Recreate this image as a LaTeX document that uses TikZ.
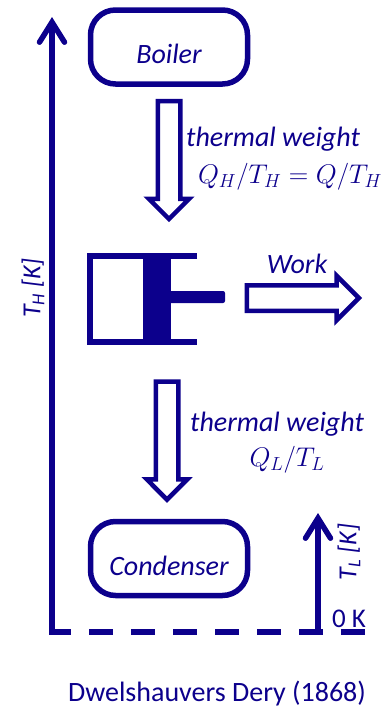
\RequirePackage{fix-cm}
\documentclass[tikz,border=0pt]{standalone}
\usepackage{fontspec}
\setmainfont{Carlito}
\usepackage{xcolor}
\usetikzlibrary{positioning,arrows.meta,shapes.arrows}
\definecolor{deepnavy}{RGB}{12, 0, 140}

\begin{document}
\begin{tikzpicture}[x=1pt, y=-1pt, color=deepnavy, text=deepnavy,
    reservoir/.style={draw, rectangle, rounded corners=25pt, line width=5.5pt, minimum width=157pt, minimum height=74pt, inner sep=0pt, text height=33pt, text depth=0pt, font=\fontsize{28}{32}\selectfont\itshape},
    weight/.style={font=\fontsize{28}{32}\selectfont\itshape, inner sep=0pt},
    eqn/.style={font=\fontsize{27}{32}\selectfont, inner sep=0pt},
    blockarrow/.style={draw, fill=white, single arrow, line width=4.5pt, inner sep=0pt, text width=18pt, single arrow head extend=9pt, single arrow head indent=0pt},
    axis/.style={line width=5.5pt, -{Straight Barb[length=20pt, width=25pt, line cap=round]}}]
    \useasboundingbox (0,0) rectangle (385,710);

    \node[reservoir] (boiler) at (169,47) {Boiler};
    \node[reservoir] (condenser) at (169,558.5) {Condenser};

    % engine
    \node[fill, rectangle, minimum width=28pt, minimum height=92pt, inner sep=0pt] (piston) at (157,299) {};
    \node[fill, rectangle, rounded corners=2pt, minimum width=56pt, minimum height=12pt, inner sep=0pt] (rod) at (197,297) {};
    \draw[line width=5.5pt] (197,256) -- (90,256) -- (90,342) -- (197,342);

    \node[blockarrow, shape border rotate=270, minimum height=118pt, minimum width=36pt, below=12pt of boiler.south] (heatin) {};
    \node[blockarrow, shape border rotate=270, minimum height=118pt, minimum width=36pt, above=16pt of condenser.north, xshift=-2pt] (heatout) {};
    \node[blockarrow, text width=0pt, text height=21pt, text depth=0pt, minimum height=112pt, minimum width=36pt, single arrow head extend=9.5pt] (workout) at (296.5,298) {};

    \node[weight] (hotweight) at (273,139) {thermal weight};
    \node[eqn] (hoteqn) at (290,177) {$Q_H/T_H = Q/T_H$};
    \node[weight] (coldweight) at (277,424) {thermal weight};
    \node[eqn] (coldeqn) at (287,460) {$Q_L/T_L$};
    \node[weight] (worklabel) at (297,264) {Work};

    % temperature axes
    \coordinate (origin) at (52,632);
    \coordinate (hightop) at (52,17);
    \coordinate (lowbase) at (318,632);
    \coordinate (lowtop) at (318,513);
    \coordinate (zeroend) at (365,632);
    \draw[axis, shorten <=-2.5pt] (origin) -- (hightop);
    \draw[axis] (lowbase) -- (lowtop);
    \draw[line width=5.5pt, dash pattern=on 24pt off 18pt, dash phase=5pt] (origin) -- (zeroend);

    \node[weight, rotate=90, font=\fontsize{26}{30}\selectfont] (highlabel) at (33,288) {$\mathit{T_H}$ \textit{[K]}};
    \node[weight, rotate=90, font=\fontsize{26}{30}\selectfont] (lowlabel) at (349,552) {$\mathit{T_L}$ \textit{[K]}};
    \node[weight, font=\fontsize{27}{31}\selectfont\upshape] (zerolabel) at (349,619) {0 K};
    \node[weight, font=\fontsize{28}{32}\selectfont\upshape] (source) at (217,694) {Dwelshauvers Dery (1868)};
\end{tikzpicture}
\end{document}
